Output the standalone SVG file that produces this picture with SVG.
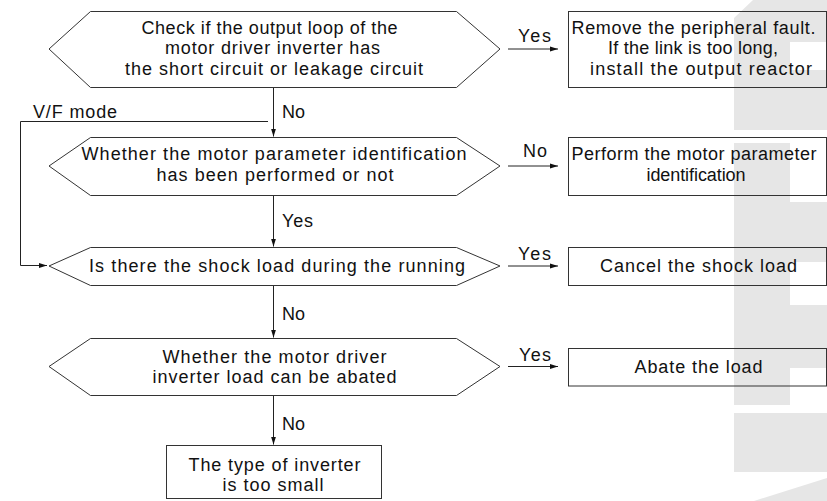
<svg xmlns="http://www.w3.org/2000/svg" width="827" height="501" viewBox="0 0 827 501">
<style>
.t{font-family:"Liberation Sans",Arial,Helvetica,sans-serif;font-size:18px;fill:#111}
.s{fill:none;stroke:#333;stroke-width:1}
.c{fill:none;stroke:#222;stroke-width:1}
.wm{fill:#e6e6e6;stroke:none}
</style>
<defs>
<marker id="ah" markerUnits="userSpaceOnUse" markerWidth="8" markerHeight="6" viewBox="0 0 8 6" refX="8" refY="3" orient="auto">
<path d="M0,0.5 L8,3 L0,5.5 z" fill="#111"/>
</marker>
</defs>
<rect width="827" height="501" fill="#fff"/>
<g id="watermark">
<polygon class="wm" points="753,0 827,0 827,42 790,42 790,70 827,70 827,130 734,130 734,18"/>
<polygon class="wm" points="734,143 790,143 790,202 827,202 827,262 790,262 790,305 827,305 827,368 790,368 790,405 734,405"/>
<rect class="wm" x="734" y="413" width="93" height="59"/>
<polygon class="wm" points="754,501 827,478 827,501"/>
</g>
<g id="connectors">
<line class="c" x1="273.5" y1="87.5" x2="273.5" y2="136.5" marker-end="url(#ah)"/>
<line class="c" x1="273.5" y1="195.5" x2="273.5" y2="246.5" marker-end="url(#ah)"/>
<line class="c" x1="273.5" y1="285.5" x2="273.5" y2="337.5" marker-end="url(#ah)"/>
<line class="c" x1="273.5" y1="395.5" x2="273.5" y2="444.5" marker-end="url(#ah)"/>
<line class="c" x1="508" y1="49" x2="558" y2="49" marker-end="url(#ah)"/>
<line class="c" x1="508" y1="166" x2="558" y2="166" marker-end="url(#ah)"/>
<line class="c" x1="508" y1="266" x2="558" y2="266" marker-end="url(#ah)"/>
<line class="c" x1="508" y1="366.5" x2="558" y2="366.5" marker-end="url(#ah)"/>
<path class="c" d="M268,121.5 H20.5 V265.5 H47" stroke="#555" marker-end="url(#ah)"/>
<text class="t" x="282" y="118" textLength="23" lengthAdjust="spacing">No</text>
<text class="t" x="33" y="118" textLength="84" lengthAdjust="spacing">V/F mode</text>
<text class="t" x="282" y="227" textLength="31" lengthAdjust="spacing">Yes</text>
<text class="t" x="282" y="320" textLength="23" lengthAdjust="spacing">No</text>
<text class="t" x="282" y="430" textLength="23" lengthAdjust="spacing">No</text>
<text class="t" x="518" y="42" textLength="33" lengthAdjust="spacing">Yes</text>
<text class="t" x="523" y="157" textLength="24" lengthAdjust="spacing">No</text>
<text class="t" x="518" y="260" textLength="33" lengthAdjust="spacing">Yes</text>
<text class="t" x="519" y="360.5" textLength="32" lengthAdjust="spacing">Yes</text>
</g>
<g id="d1">
<polygon class="s" points="49,49 90.5,11.5 456.5,11.5 500,49 456.5,87.5 90.5,87.5"/>
<text class="t" x="141.5" y="33.5" textLength="256" lengthAdjust="spacing">Check if the output loop of the</text>
<text class="t" x="165" y="54" textLength="215" lengthAdjust="spacing">motor driver inverter has</text>
<text class="t" x="125" y="74.5" textLength="298" lengthAdjust="spacing">the short circuit or leakage circuit</text>
</g>
<g id="b1">
<rect class="s" x="568.5" y="11.5" width="258" height="76"/>
<text class="t" x="571.5" y="33.5" textLength="244" lengthAdjust="spacing">Remove the peripheral fault.</text>
<text class="t" x="608" y="54" textLength="170" lengthAdjust="spacing">If the link is too long,</text>
<text class="t" x="590" y="74.5" textLength="222" lengthAdjust="spacing">install the output reactor</text>
</g>
<g id="d2">
<polygon class="s" points="49,166 90.5,137.5 456.5,137.5 500,166 456.5,195.5 90.5,195.5"/>
<text class="t" x="81.5" y="159.5" textLength="385" lengthAdjust="spacing">Whether the motor parameter identification</text>
<text class="t" x="156.5" y="180.5" textLength="237" lengthAdjust="spacing">has been performed or not</text>
</g>
<g id="b2">
<rect class="s" x="568.5" y="137.5" width="258" height="58"/>
<text class="t" x="571.5" y="159.5" textLength="245" lengthAdjust="spacing">Perform the motor parameter</text>
<text class="t" x="646.5" y="180.5" textLength="99" lengthAdjust="spacing">identification</text>
</g>
<g id="d3">
<polygon class="s" points="49,266 90.5,247.5 456.5,247.5 500,266 456.5,285.5 90.5,285.5"/>
<text class="t" x="89" y="271.5" textLength="376" lengthAdjust="spacing">Is there the shock load during the running</text>
</g>
<g id="b3">
<rect class="s" x="568.5" y="247.5" width="258" height="38"/>
<text class="t" x="600" y="271.5" textLength="197" lengthAdjust="spacing">Cancel the shock load</text>
</g>
<g id="d4">
<polygon class="s" points="49,366.5 90.5,338.5 456.5,338.5 500,366.5 456.5,395.5 90.5,395.5"/>
<text class="t" x="162.5" y="362.5" textLength="224" lengthAdjust="spacing">Whether the motor driver</text>
<text class="t" x="152.5" y="382.5" textLength="244" lengthAdjust="spacing">inverter load can be abated</text>
</g>
<g id="b4">
<rect class="s" x="568.5" y="348.5" width="258" height="37.5"/>
<text class="t" x="634.5" y="373" textLength="128" lengthAdjust="spacing">Abate the load</text>
</g>
<g id="b5">
<rect class="s" x="166.5" y="445.5" width="215" height="53"/>
<text class="t" x="188.5" y="470.5" textLength="172" lengthAdjust="spacing">The type of inverter</text>
<text class="t" x="222.5" y="491" textLength="101" lengthAdjust="spacing">is too small</text>
</g>
</svg>
